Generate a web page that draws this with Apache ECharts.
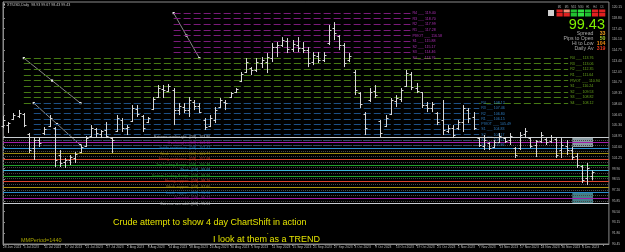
<!DOCTYPE html>
<html><head><meta charset="utf-8">
<script src="https://cdn.jsdelivr.net/npm/echarts@6/dist/echarts.min.js"></script>
<style>html,body{margin:0;padding:0;background:#000;}#c{width:625px;height:252px;}</style>
</head><body><div id="c"></div><script>
// ---- data ----
const tickLabels = ['28 Jun 2023','5 Jul 2023','11 Jul 2023','17 Jul 2023','21 Jul 2023','27 Jul 2023','2 Aug 2023','8 Aug 2023','14 Aug 2023','18 Aug 2023','24 Aug 2023','30 Aug 2023','5 Sep 2023','11 Sep 2023','15 Sep 2023','21 Sep 2023','27 Sep 2023','3 Oct 2023','9 Oct 2023','13 Oct 2023','19 Oct 2023','25 Oct 2023','1 Nov 2023','7 Nov 2023','13 Nov 2023','17 Nov 2023','24 Nov 2023','30 Nov 2023','6 Dec 2023'];
const opens  = [105.24,105.37,106.12,106.49,106.74,104.24,102.48,103.49,104.36,105.24,104.99,101.61,100.73,100.98,101.23,101.98,102.73,103.98,104.86,104.24,104.74,103.73,104.61,105.99,104.99,105.87,107.37,106.49,105.74,107.37,108.87,109.87,109.62,109.75,107.24,107.62,107.24,108.25,107.74,105.99,105.24,105.99,107.62,108.25,108.87,109.50,110.88,112.01,112.51,112.26,113.13,113.26,113.76,115.14,115.39,115.89,114.89,115.39,115.01,114.76,113.26,114.01,113.51,115.64,117.52,116.52,115.39,113.51,112.01,109.37,106.74,108.50,109.62,105.86,105.24,106.74,108.37,108.62,110.25,111.76,110.00,109.50,107.87,107.49,106.87,105.99,104.61,104.99,104.99,105.74,107.24,106.37,103.73,102.73,103.11,102.61,103.23,103.73,103.48,102.48,102.48,104.24,103.73,102.86,103.36,103.61,103.36,103.61,102.23,102.73,102.23,101.48,100.22,98.72,98.93];
const highs  = [106.49,105.74,106.87,107.25,106.87,104.36,103.86,103.86,105.11,106.62,105.11,102.23,101.23,101.61,101.98,102.86,103.98,105.36,104.99,104.74,105.74,103.86,106.62,106.24,105.36,107.87,107.87,106.62,106.37,108.87,110.38,110.38,110.50,110.00,108.12,108.12,108.87,108.50,108.12,106.24,106.62,107.62,108.75,108.50,109.50,110.00,112.01,113.76,112.63,113.76,113.89,114.39,115.64,115.77,116.39,116.27,116.02,116.39,115.77,115.14,114.51,114.51,114.51,117.90,118.27,116.64,115.64,114.39,112.26,109.50,106.99,110.00,110.38,105.99,106.62,108.75,109.12,110.00,112.26,112.01,110.63,109.50,108.25,108.25,106.99,108.50,105.36,105.36,105.99,107.87,107.49,106.99,103.86,104.11,103.23,103.48,104.36,103.86,104.36,102.61,104.49,104.99,103.86,103.48,104.49,103.73,104.11,103.73,103.73,103.48,102.61,101.86,100.35,100.60,99.67];
const lows   = [104.99,104.36,105.99,106.24,105.11,101.86,100.98,102.61,104.11,105.11,100.10,100.10,99.98,100.35,100.60,101.86,102.61,103.86,103.86,103.73,103.73,101.86,104.49,104.49,104.11,105.74,106.37,104.49,105.61,107.24,108.75,108.75,109.50,105.36,106.62,106.87,106.37,107.24,106.87,104.74,105.11,105.61,107.49,107.24,108.75,109.37,110.75,111.88,111.63,112.01,112.51,111.88,113.26,113.89,115.14,114.39,114.51,114.51,114.39,112.63,112.88,113.13,113.26,115.39,116.02,114.76,112.63,113.26,109.12,107.49,104.11,108.25,108.75,103.86,105.11,106.62,107.62,108.25,110.13,109.75,109.37,107.49,106.99,106.99,105.36,104.11,104.36,103.73,104.74,104.49,105.61,104.74,102.61,102.23,102.23,102.48,103.11,103.11,102.86,101.23,102.23,103.73,102.48,101.35,103.11,102.86,103.11,101.23,101.23,101.61,100.98,99.98,98.09,97.84,98.43];
const closes = [105.99,105.62,106.62,106.87,105.37,102.23,103.49,103.11,104.86,106.24,100.98,100.60,100.98,101.35,101.73,102.61,103.73,104.99,104.36,104.61,103.98,103.48,106.24,104.99,105.11,107.49,106.74,104.99,106.24,108.62,109.98,109.75,110.25,107.24,107.74,107.24,108.50,107.74,106.99,105.11,106.24,107.24,108.50,108.12,109.37,109.87,111.76,113.26,112.26,113.26,113.51,113.89,115.14,115.39,116.02,114.89,115.52,115.01,114.76,113.13,114.14,113.51,114.14,117.27,116.89,115.39,113.13,114.01,109.75,107.99,104.99,109.50,109.12,104.36,106.24,108.50,108.75,109.75,111.88,110.13,109.62,107.87,107.49,107.99,105.74,104.74,104.99,104.11,105.74,107.49,106.24,104.99,102.86,103.48,102.48,103.23,103.98,103.36,103.98,101.61,104.11,104.61,102.73,103.36,104.11,103.23,103.86,101.61,102.86,102.23,101.35,100.35,98.47,99.97,99.43];

const levelNames  = ['Extreme overbought','Overbought','Inside resistance','Weak resistance','Strong resistance','Top Trading Range','Pivot','Bottom Trading Range','Strong support','Weak support','Inside support','Oversold','Extreme oversold'];
const levelValues = [103.86,103.16,102.47,101.77,101.08,100.38,99.68,98.99,98.29,97.60,96.90,96.21,95.51];
const levelColors = ['#c8ccd0','#a21fa8','#2c8ed0','#9c8a12','#dc4630','#22a02a','#3cb4dc','#22a02a','#dc4630','#b09a14','#2c8ed0','#a21fa8','#c8ccd0'];

const pivotNames   = ['R4','R3','R2','R1','PIVOT','S1','S2','S3','S4'];
const magentaSet   = [119.40,118.70,117.99,117.28,116.58,115.88,115.17,114.46,113.76];
const greenSet     = [113.76,113.06,112.35,111.64,110.94,110.24,109.53,108.82,108.12];
const blueSet      = [108.12,107.46,106.80,106.15,105.49,104.83,104.17,103.51,102.86];
const magentaSpan  = [33.0, 78.8];
const greenSpan    = [4.03, 109.3];
const blueSpan     = [5.95, 92.1];

const shiftLineA = [[4.03,113.76],[9.49,110.94],[14.96,108.12]];
const shiftLineB = [[5.95,108.12],[10.45,105.49],[14.96,102.86]];
const shiftLineC = [[33.0,119.40],[35.48,116.58],[37.97,113.76]];

const boxUpper = [[110.1,103.86],[114.1,102.61]];
const boxLower = [[110.1,96.97],[114.1,95.59]];

const lastPrice = 99.43;
const infoLabels = ['Spread','Pips to Open','Hi to Low','Daily Av'];
const infoValues = ['33','50','104','319'];
const infoColors = ['#f0a020','#a8d030','#f08a10','#f03a20'];
const tfNames = ['M1','M5','M15','M30','H1','H4','D1'];
const tfRow1 = ['#e02020','#f0907a','#20c030','#30e040','#20c030','#e02020','#e02020'];
const tfRow2 = ['#e02020','#e02020','#20c030','#30e040','#20c030','#e02020','#e02020'];

// ---- chart ----
const FONT = 'Liberation Sans';
const chart = echarts.init(document.getElementById('c'), null, {renderer:'canvas'});
const ohlc = opens.map((o,i)=>[i,o,highs[i],lows[i],closes[i]]);

function dashedSet(vals, span, color, labelColor){
  return {
    type:'scatter', data:[], silent:true,
    markLine:{
      silent:true, symbol:'none', animation:false,
      lineStyle:{color:color, type:[7,3], width:1},
      label:{show:true, position:'end', distance:2, color:labelColor, fontSize:3.6, fontFamily:FONT},
      data: vals.map((v,k)=>[
        {coord:[span[0], v]},
        {coord:[span[1], v], label:{formatter: pivotNames[k] + ' ___ ' + v.toFixed(2)}}
      ])
    }
  };
}
function shiftLine(pts){
  return {type:'line', data:pts, silent:true, symbol:'rect', symbolSize:2.2,
    itemStyle:{color:'#e8e8e8'}, lineStyle:{color:'#a8a8a8', width:0.8}, z:4, animation:false};
}

const dotted = [];
for (let k=0;k<levelValues.length-1;k++) dotted.push({yAxis:(levelValues[k]+levelValues[k+1])/2});

const series = [
  dashedSet(magentaSet, magentaSpan, '#7a1a7a', '#b030b8'),
  dashedSet(greenSet, greenSpan, '#467a14', '#6aa81c'),
  dashedSet(blueSet, blueSpan, '#1c4f86', '#2e7cc0'),
  {type:'scatter', data:[], silent:true,
    markLine:{silent:true, symbol:'none', animation:false, label:{show:false},
      lineStyle:{color:'#484848', type:[1,1], width:1}, data: dotted}},
  {type:'scatter', data:[], silent:true,
    markLine:{silent:true, symbol:'none', animation:false, label:{show:false},
      data: levelValues.map((v,k)=>({yAxis:v, lineStyle:{color:levelColors[k], type:'solid', width:1.2}}))}},
  {type:'scatter', silent:true, symbolSize:0, z:5,
    data: levelValues.map((v,k)=>({value:[40.1, v],
      label:{show:true, position:'left', distance:0, color:levelColors[k], fontSize:3.6, fontFamily:FONT,
        formatter: levelNames[k] + ' - [D8] - ' + v.toFixed(2)}}))},
  {type:'scatter', data:[], silent:true,
    markArea:{silent:true, data:[
      [{coord:boxUpper[0], itemStyle:{color:'rgba(180,205,215,0.75)'}},{coord:boxUpper[1]}],
      [{coord:boxLower[0], itemStyle:{color:'rgba(90,170,180,0.75)'}},{coord:boxLower[1]}]
    ]}},
  shiftLine(shiftLineA), shiftLine(shiftLineB), shiftLine(shiftLineC),
  {type:'custom', z:6, data: ohlc, encode:{x:0, y:[1,2,3,4]}, silent:true,
    renderItem:(params, api)=>{
      const i = api.value(0);
      const o = api.coord([i, api.value(1)]);
      const h = api.coord([i, api.value(2)]);
      const l = api.coord([i, api.value(3)]);
      const c = api.coord([i, api.value(4)]);
      const x = Math.round(h[0]) + 0.5;
      const st = {stroke:'#d8d8d8', lineWidth:1};
      return {type:'group', children:[
        {type:'line', shape:{x1:x,y1:h[1],x2:x,y2:l[1]}, style:st},
        {type:'line', shape:{x1:x-2,y1:Math.round(o[1])+0.5,x2:x,y2:Math.round(o[1])+0.5}, style:st},
        {type:'line', shape:{x1:x,y1:Math.round(c[1])+0.5,x2:x+2,y2:Math.round(c[1])+0.5}, style:st}
      ]};
    }},
  {type:'scatter', data:[], silent:true,
    markLine:{silent:true, symbol:'none', animation:false, lineStyle:{opacity:0},
      label:{show:true, position:'end', distance:1, formatter: lastPrice.toFixed(2), color:'#000',
        backgroundColor:'#f0f0f0', fontSize:3.8, fontFamily:FONT, padding:[1,2]},
      data:[{yAxis:lastPrice}]}}
];

const graphics = [
  {type:'rect', shape:{x:3,y:3.5,width:2,height:2}, style:{fill:'#c0c0c0'}},
  {type:'text', left:7, top:2.5, style:{text:'XTIUSD,Daily  98.93 99.67 98.43 99.43', fill:'#c0c0c0', fontSize:3.6, fontFamily:FONT}},
  {type:'text', left:113, top:218.5, style:{text:'Crude attempt to show 4 day ChartShift in action', fill:'#e4e400', fontSize:9, fontFamily:FONT}},
  {type:'text', left:213, top:235, style:{text:'I look at them as a TREND', fill:'#e4e400', fontSize:9, fontFamily:FONT}},
  {type:'text', left:267, top:231, style:{text:'-', fill:'#e4e400', fontSize:4, fontFamily:FONT}},
  {type:'text', left:21, top:237, style:{text:'MMPeriod=1440', fill:'#a8a400', fontSize:5.5, fontFamily:FONT}},
  {type:'text', right:20, top:17, style:{text:lastPrice.toFixed(2), fill:'#80f000', fontSize:14.5, fontFamily:FONT}},
  {type:'rect', shape:{x:548,y:10,width:6,height:6}, style:{fill:'#d0d0d0'}}
];
tfNames.forEach((n,k)=>{
  const x = 556.5 + k*7.1;
  graphics.push({type:'text', x:x+3, y:7, style:{text:n, fill:'#b0b0b0', fontSize:2.6, fontFamily:FONT, align:'center', verticalAlign:'middle'}});
  graphics.push({type:'rect', shape:{x:x, y:9.5, width:6.2, height:3}, style:{fill:tfRow1[k]}});
  graphics.push({type:'rect', shape:{x:x, y:13, width:6.2, height:3.5}, style:{fill:tfRow2[k]}});
});
infoLabels.forEach((t,k)=>{
  const y = 33.3 + k*5;
  graphics.push({type:'text', x:593.5, y:y, style:{text:t, fill:'#a8a8a8', fontSize:5.2, fontFamily:FONT, align:'right', verticalAlign:'middle'}});
  graphics.push({type:'text', x:605.5, y:y, style:{text:infoValues[k], fill:infoColors[k], fontSize:5.2, fontFamily:FONT, align:'right', verticalAlign:'middle', fontWeight:'bold'}});
});

chart.setOption({
  backgroundColor:'#000',
  animation:false,
  grid:{left:1, right:13, top:2, bottom:8, show:true, borderColor:'#8a8a8a', borderWidth:1, backgroundColor:'#000'},
  xAxis:{type:'value', min:0, max:117.18, interval:4,
    axisLine:{show:true, lineStyle:{color:'#8a8a8a'}},
    axisTick:{show:true, length:2, lineStyle:{color:'#8a8a8a'}},
    splitLine:{show:false},
    axisLabel:{show:true, showMaxLabel:false, align:'left', margin:2, color:'#b8b8b8', fontSize:3.3, fontFamily:FONT,
      formatter:(v)=>{const k=Math.round(v/4); return (Math.abs(v-k*4)<1e-6 && tickLabels[k]) ? tickLabels[k] : '';}}},
  yAxis:{type:'value', position:'right', min:90.45, max:120.79, interval:1.35, scale:true,
    axisLine:{show:true, lineStyle:{color:'#8a8a8a'}},
    axisTick:{show:true, length:2, lineStyle:{color:'#8a8a8a'}},
    splitLine:{show:false},
    axisLabel:{show:true, showMaxLabel:false, margin:3, color:'#b8b8b8', fontSize:3.3, fontFamily:FONT,
      formatter:(v)=>v.toFixed(2)}},
  graphic:graphics,
  series:series
});
</script></body></html>
